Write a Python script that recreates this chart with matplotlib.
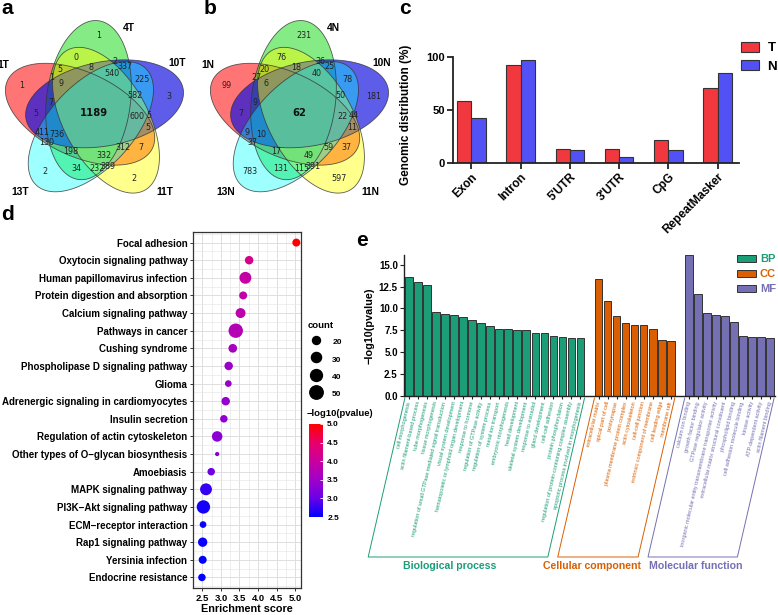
import numpy as np
import matplotlib
matplotlib.use("Agg")
import matplotlib.pyplot as plt
from matplotlib.colors import LinearSegmentedColormap
from matplotlib.patches import Polygon
from matplotlib.lines import Line2D

plt.rcParams['font.family'] = ['Liberation Sans', 'DejaVu Sans']

# =========================================================
# DATA
# =========================================================

# ---- a / b : five-set Venn region counts ----
# sets listed clockwise starting from the top ellipse
venn_a_sets = ['4T', '10T', '11T', '13T', '1T']
venn_b_sets = ['4N', '10N', '11N', '13N', '1N']
# region types, as offsets from set k:
#   only k | k,k+1 | k,k+2 | k,k+1,k+2 | k,k+1,k+3 | all but k-1
a_only = [1, 3, 2, 2, 1]
a_adj = [2, 5, 389, 130, 1]
a_skip = [0, 225, 7, 34, 5]
a_run3 = [8, 582, 312, 198, 7]
a_split3 = [337, 5, 232, 411, 5]
a_four = [540, 600, 332, 736, 9]
a_all = 1189

b_only = [231, 181, 597, 783, 99]
b_adj = [36, 44, 391, 37, 27]
b_skip = [76, 78, 37, 131, 7]
b_run3 = [18, 50, 59, 17, 9]
b_split3 = [25, 11, 115, 9, 20]
b_four = [40, 22, 49, 10, 6]
b_all = 62

# ---- c : genomic distribution ----
genomic_feats = ['Exon', 'Intron', "5'UTR", "3'UTR", 'CpG', 'RepeatMasker']
genomic_T = [58.4, 92.8, 13.4, 13.1, 21.9, 70.3]
genomic_N = [42.5, 97.5, 12.2, 5.3, 12.2, 85.0]

# ---- d : KEGG enrichment ----
kegg_terms = ['Focal adhesion', 'Oxytocin signaling pathway',
              'Human papillomavirus infection', 'Protein digestion and absorption',
              'Calcium signaling pathway', 'Pathways in cancer', 'Cushing syndrome',
              'Phospholipase D signaling pathway', 'Glioma',
              'Adrenergic signaling in cardiomyocytes', 'Insulin secretion',
              'Regulation of actin cytoskeleton',
              'Other types of O\u2212glycan biosynthesis', 'Amoebiasis',
              'MAPK signaling pathway', 'PI3K\u2212Akt signaling pathway',
              'ECM\u2212receptor interaction', 'Rap1 signaling pathway',
              'Yersinia infection', 'Endocrine resistance']
kegg_score = [5.03, 3.76, 3.66, 3.60, 3.53, 3.40, 3.32, 3.21, 3.20, 3.13,
              3.08, 2.90, 2.90, 2.74, 2.60, 2.53, 2.52, 2.51, 2.51, 2.49]
kegg_count = [20, 22, 40, 20, 29, 57, 23, 22, 15, 22,
              18, 32, 8, 18, 40, 50, 15, 26, 20, 18]
kegg_logp = [5.0, 4.2, 3.95, 3.9, 3.85, 3.75, 3.6, 3.45, 3.45, 3.4,
             3.35, 3.3, 3.25, 3.05, 2.75, 2.6, 2.55, 2.55, 2.5, 2.5]

# ---- e : GO enrichment ----
bp_terms = ['cell morphogenesis', 'actin filament-based process', 'tube morphogenesis',
            'tissue morphogenesis',
            'regulation of small GTPase mediated signal transduction',
            'visual system development', 'hematopoietic or lymphoid organ development',
            'response to hormone', 'regulation of GTPase activity',
            'regulation of system process', 'metal ion transport',
            'embryonic morphogenesis', 'head development', 'skeletal system development',
            'response to estradiol', 'gland development', 'cell-cell adhesion',
            'protein phosphorylation',
            'regulation of protein-containing complex assembly',
            'apoptotic process involved in morphogenesis']
bp_logp = [13.6, 13.0, 12.7, 9.6, 9.4, 9.2, 9.0, 8.7, 8.3, 8.0,
           7.7, 7.7, 7.5, 7.5, 7.2, 7.2, 6.8, 6.7, 6.6, 6.6]
cc_terms = ['extracellular matrix', 'apical part of cell', 'postsynapse',
            'plasma membrane protein complex', 'actin cytoskeleton', 'cell-cell junction',
            'extrinsic component of membrane', 'cell leading edge', 'membrane raft']
cc_logp = [13.4, 10.8, 9.1, 8.3, 8.1, 8.1, 7.7, 6.4, 6.3]
mf_terms = ['calcium ion binding', 'growth factor binding', 'GTPase regulator activity',
            'inorganic molecular entity transmembrane transporter activity',
            'extracellular matrix structural constituent', 'phospholipid binding',
            'cell adhesion molecule binding', 'kinase activity',
            'ATP-dependent activity', 'actin filament binding']
mf_logp = [16.1, 11.6, 9.5, 9.2, 9.1, 8.5, 6.8, 6.7, 6.7, 6.6]
go_groups = ['BP', 'CC', 'MF']
go_titles = ['Biological process', 'Cellular component', 'Molecular function']

# =========================================================
# FIGURE HELPERS
# =========================================================
W, H = 778, 615
fig = plt.figure(figsize=(W / 100, H / 100), dpi=100)
fig.patch.set_facecolor('white')


def px_axes(x0, y0, x1, y1):
    # axes placed by pixel box (y measured from the top)
    return fig.add_axes([x0 / W, 1 - y1 / H, (x1 - x0) / W, (y1 - y0) / H])


def fx(x):
    return x / W


def fy(y):
    return 1 - y / H


for lab, (x, y) in zip('abcde', [(7, 9), (210, 9), (405, 9), (7, 215), (362, 241)]):
    fig.text(fx(x), fy(y), lab, fontsize=15, fontweight='bold', ha='center', va='center')

# =========================================================
# a / b : VENN
# =========================================================
ELL_A, ELL_B = 80.0, 42.0        # semi axes
ELL_OFF, ELL_TWIST, ELL_ROT0 = 14.0, 30.0, 7.0
CEN = np.array([94.0, 113.0])
venn_fill = ['#22DD22', '#1010E0', '#FFFF00', '#00FFFF', '#FF1A1A']
venn_alpha = [0.55, 0.68, 0.45, 0.38, 0.6]
draw_order = [4, 0, 1, 2, 3]
cat_ang = [22, 59, 138, 223, 298]
cat_rad = [92, 97, 106, 108, 103]
REGION_TYPES = [(0,), (0, 1), (0, 2), (0, 1, 2), (0, 1, 3), (0, 1, 2, 3)]


def ellipse_frames():
    frames = []
    for k in range(5):
        al = np.deg2rad(ELL_ROT0 + 72 * k)
        ph = al - np.deg2rad(ELL_TWIST)
        u = np.array([np.sin(al), -np.cos(al)])
        c = CEN + ELL_OFF * np.array([np.sin(ph), -np.cos(ph)])
        frames.append((c, u))
    return frames


FRAMES = ellipse_frames()

# membership grid, used to find a spot inside each region for its label
gx, gy = np.meshgrid(np.linspace(0, 200, 401), np.linspace(0, 205, 411))
inside, dists = [], []
for c, u in FRAMES:
    dx, dy = gx - c[0], gy - c[1]
    aa = dx * u[0] + dy * u[1]
    bb = dx * u[1] - dy * u[0]
    g = np.sqrt((aa / ELL_A) ** 2 + (bb / ELL_B) ** 2)
    grad = np.hypot(aa / ELL_A ** 2, bb / ELL_B ** 2) / (g + 1e-9) + 1e-9
    inside.append(g < 1)
    dists.append(np.abs(g - 1) / grad)
inside = np.array(inside)
mindist = np.min(np.array(dists), axis=0)


def region_spot(members):
    mask = np.ones_like(mindist, dtype=bool)
    for k in range(5):
        mask &= inside[k] if k in members else ~inside[k]
    if not mask.any():
        return CEN
    score = np.where(mask, mindist, -1)
    i = np.unravel_index(np.argmax(score), score.shape)
    return np.array([gx[i], gy[i]])


def draw_venn(ax, names, groups, total):
    t = np.linspace(0, 2 * np.pi, 240)
    for k in draw_order:
        c, u = FRAMES[k]
        v = np.array([-u[1], u[0]])
        pts = c + np.outer(ELL_A * np.cos(t), u) + np.outer(ELL_B * np.sin(t), v)
        ax.add_patch(Polygon(pts, closed=True, facecolor=venn_fill[k],
                             alpha=venn_alpha[k], edgecolor='none'))
    for k in draw_order:
        c, u = FRAMES[k]
        v = np.array([-u[1], u[0]])
        pts = c + np.outer(ELL_A * np.cos(t), u) + np.outer(ELL_B * np.sin(t), v)
        ax.add_patch(Polygon(pts, closed=True, facecolor='none',
                             edgecolor='#333333', lw=0.6, alpha=0.8))
    for rtype, vals in zip(REGION_TYPES, groups):
        for k in range(5):
            members = {(j + k) % 5 for j in rtype}
            x, y = region_spot(members)
            ax.text(x, y, str(vals[k]), ha='center', va='center', fontsize=5.8,
                    family='DejaVu Sans', color='#222222')
    x, y = region_spot(set(range(5)))
    ax.text(x, y, str(total), ha='center', va='center', fontsize=7.2,
            family='DejaVu Sans', fontweight='bold', color='#111111')
    for k in range(5):
        ang = np.deg2rad(cat_ang[k])
        x = CEN[0] + cat_rad[k] * np.sin(ang)
        y = CEN[1] - cat_rad[k] * np.cos(ang)
        ax.text(x, y, names[k], ha='center', va='center', fontsize=7.4,
                fontweight='bold', clip_on=False)
    ax.set_xlim(0, 200)
    ax.set_ylim(205, 0)
    ax.axis('off')


ax_a = px_axes(0, 0, 200, 205)
draw_venn(ax_a, venn_a_sets, [a_only, a_adj, a_skip, a_run3, a_split3, a_four], a_all)
ax_b = px_axes(205, 0, 405, 205)
draw_venn(ax_b, venn_b_sets, [b_only, b_adj, b_skip, b_run3, b_split3, b_four], b_all)

# =========================================================
# c : GENOMIC DISTRIBUTION
# =========================================================
ax_c = px_axes(453, 57, 739, 163)
xc = np.arange(len(genomic_feats))
bw = 0.29
ax_c.bar(xc - bw / 2, genomic_T, width=bw, color='#F2383F', edgecolor='#333333', lw=0.8, label='T')
ax_c.bar(xc + bw / 2, genomic_N, width=bw, color='#5151F5', edgecolor='#333333', lw=0.8, label='N')
ax_c.set_xlim(-0.37, 5.43)
ax_c.set_ylim(0, 100)
ax_c.set_yticks([0, 50, 100])
ax_c.set_xticks(xc)
ax_c.set_xticklabels(genomic_feats, rotation=45, ha='right', rotation_mode='anchor',
                     fontsize=8.5, fontweight='bold')
for lbl in ax_c.get_yticklabels():
    lbl.set_fontweight('bold')
    lbl.set_fontsize(8)
for s in ['top', 'right']:
    ax_c.spines[s].set_visible(False)
for s in ['left', 'bottom']:
    ax_c.spines[s].set_linewidth(1.3)
    ax_c.spines[s].set_color('#222222')
ax_c.tick_params(width=1.3, length=4, color='#222222', pad=2)
ax_c.set_ylabel('Genomic distribution (%)', fontsize=8.5, fontweight='bold')
ax_c.yaxis.set_label_coords(-0.143, 0.45)
ax_c.legend(loc='upper left', bbox_to_anchor=(fx(741), fy(42)), bbox_transform=fig.transFigure,
            frameon=False, prop=dict(weight='bold', size=9.5), handlelength=1.4,
            handleheight=0.75, labelspacing=0.45, handletextpad=0.6, borderpad=0,
            borderaxespad=0)

# =========================================================
# d : KEGG BUBBLES
# =========================================================
ax_d = px_axes(193, 232, 301, 588)
nk = len(kegg_terms)
yk = np.arange(nk)[::-1]
kegg_cmap = LinearSegmentedColormap.from_list(
    'blue_red', ['#0000FF', '#6A00E8', '#A000C8', '#C800A0', '#E8006A', '#FF0000'])


def bubble_size(c):
    return 2.07 * (0.967 * np.asarray(c, dtype=float) - 3.3)


ax_d.set_axisbelow(True)
sc = ax_d.scatter(kegg_score, yk, s=bubble_size(kegg_count), c=kegg_logp, cmap=kegg_cmap,
                  vmin=2.5, vmax=5.0, edgecolors='none', zorder=3, clip_on=False)
ax_d.set_xlim(2.344, 5.156)
ax_d.set_ylim(-0.6, nk - 0.4)
ax_d.set_xticks(np.arange(2.5, 5.01, 0.5))
ax_d.set_xticks(np.arange(2.25, 5.2, 0.25), minor=True)
ax_d.set_yticks(yk)
ax_d.set_yticks(np.arange(-0.5, nk, 1.0), minor=True)
ax_d.set_yticklabels(kegg_terms, fontsize=7, fontweight='bold')
ax_d.set_xticklabels([f'{v:.1f}' for v in np.arange(2.5, 5.01, 0.5)], fontsize=6.8, fontweight='bold')
ax_d.grid(which='major', color='#DEDEDE', lw=0.7)
ax_d.grid(which='minor', color='#E6E6E6', lw=0.45)
ax_d.tick_params(which='major', length=2.5, width=0.7, color='#333333', pad=1.5, labelcolor='black')
ax_d.tick_params(which='minor', length=0)
for s in ax_d.spines.values():
    s.set_color('#333333')
    s.set_linewidth(0.9)
ax_d.set_xlabel('Enrichment score', fontsize=7.8, fontweight='bold', labelpad=1)

size_handles = [Line2D([], [], ls='', marker='o', color='black', ms=np.sqrt(bubble_size(v)))
                for v in [20, 30, 40, 50]]
leg_d = ax_d.legend(size_handles, ['20', '30', '40', '50'], title='count', loc='upper left',
                    bbox_to_anchor=(fx(308), fy(321)), bbox_transform=fig.transFigure,
                    frameon=False, prop=dict(weight='bold', size=6),
                    title_fontproperties=dict(weight='bold', size=6.8),
                    handleheight=1.7, labelspacing=0.72, handletextpad=0.9,
                    borderpad=0, borderaxespad=0, alignment='left')

fig.text(fx(307), fy(413), '\u2212log10(pvalue)', fontsize=6.8, fontweight='bold',
         ha='left', va='center')
cax = px_axes(309, 424, 323, 517)
cb = fig.colorbar(sc, cax=cax, ticks=[2.5, 3.0, 3.5, 4.0, 4.5, 5.0])
cb.outline.set_visible(False)
cax.tick_params(length=2.5, width=0.6, color='white', direction='in', pad=3)
cb.set_ticklabels([f'{v:.1f}' for v in [2.5, 3.0, 3.5, 4.0, 4.5, 5.0]], fontsize=6, fontweight='bold')

# =========================================================
# e : GO BARS
# =========================================================
ax_e = px_axes(404, 255, 775, 396)
go_colors = ['#1B9E77', '#D95F02', '#7570B3']
go_terms = [bp_terms, cc_terms, mf_terms]
go_vals = [bp_logp, cc_logp, mf_logp]
TEXT_ROT = 77

pos, start = [], 0
for terms in go_terms:
    pos.append(np.arange(start, start + len(terms)))
    start += len(terms) + 1

for p, v, col, grp in zip(pos, go_vals, go_colors, go_groups):
    ax_e.bar(p, v, width=0.85, color=col, edgecolor='#333333', lw=0.7, label=grp)

ax_e.set_xlim(-0.55, 40.55)
ax_e.set_ylim(0, 16.1)
ax_e.set_yticks(np.arange(0, 15.1, 2.5))
ax_e.set_yticklabels([f'{v:.1f}' for v in np.arange(0, 15.1, 2.5)], fontsize=7, fontweight='bold')
all_pos = np.concatenate(pos)
ax_e.set_xticks(all_pos)
ax_e.set_xticklabels(sum(go_terms, []), rotation=TEXT_ROT, ha='right', va='center',
                     rotation_mode='anchor', fontsize=4.0)
tick_cols = sum([[c] * len(t) for c, t in zip(go_colors, go_terms)], [])
for lbl, c in zip(ax_e.get_xticklabels(), tick_cols):
    lbl.set_color(c)
for s in ['top', 'right']:
    ax_e.spines[s].set_visible(False)
for s in ['left', 'bottom']:
    ax_e.spines[s].set_linewidth(1.0)
    ax_e.spines[s].set_color('#222222')
ax_e.tick_params(axis='x', length=2.5, width=0.8, pad=1.5, color='#222222')
ax_e.tick_params(axis='y', length=3, width=0.8, pad=1.5, color='#222222')
ax_e.set_ylabel('\u2212log10(pvalue)', fontsize=7.8, fontweight='bold', labelpad=3)

# group brackets drawn in pixel space, slanted like the tick labels
top_y, bot_y = 398, 557
slant = (bot_y - top_y) / np.tan(np.deg2rad(TEXT_ROT))
title_shift = [-8, -6, 3]
for p, col, title, sh in zip(pos, go_colors, go_titles, title_shift):
    xl = ax_e.transData.transform((p[0] - 0.45, 0))[0]
    xr = ax_e.transData.transform((p[-1] + 0.45, 0))[0]
    xs = [xl, xl - slant, xr - slant, xr]
    ys = [top_y, bot_y, bot_y, top_y]
    fig.add_artist(Line2D([fx(x) for x in xs], [fy(y) for y in ys], color=col, lw=0.7,
                          transform=fig.transFigure))
    fig.text(fx((xl + xr) / 2 - slant + sh), fy(566), title, color=col, fontsize=7.6,
             fontweight='bold', ha='center', va='center')

leg_e = ax_e.legend(loc='upper left', bbox_to_anchor=(fx(737), fy(254)),
                    bbox_transform=fig.transFigure, frameon=False,
                    prop=dict(weight='bold', size=8), handlelength=1.75, handleheight=0.6,
                    labelspacing=0.45, handletextpad=0.3, borderpad=0, borderaxespad=0)
for txt, c in zip(leg_e.get_texts(), go_colors):
    txt.set_color(c)

fig.savefig('out.png', dpi=100)
